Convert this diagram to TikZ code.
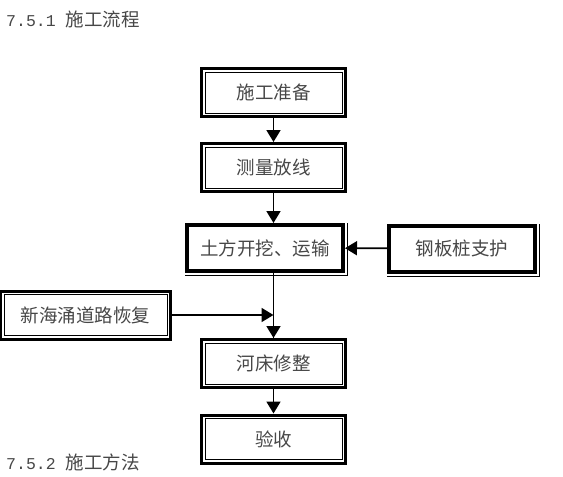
\documentclass[tikz,border=0pt]{standalone}
\usepackage{fontspec}
\usetikzlibrary{arrows.meta}
\newfontfamily\cjk{Noto Sans CJK SC}
\newfontfamily\monodigits{Liberation Mono}
\newcommand{\boxfont}{\cjk\fontsize{18.5}{20}\selectfont}
\newcommand{\headfont}{\fontsize{16.5}{20}\selectfont}
\newcommand{\heavyedge}[1]{%
  \draw[line width=0.9pt] ([yshift=-2.6pt]#1.south west) -| ([xshift=2.6pt]#1.north east);}
\tikzset{
  flowbox/.style={draw,line width=3pt,minimum width=144pt,minimum height=48pt,
    inner sep=0pt,font=\boxfont,text=black!72,
    path picture={\draw[line width=0.8pt]
      ([shift={(3.4pt,-3.4pt)}]path picture bounding box.north west) rectangle
      ([shift={(-3.4pt,3.4pt)}]path picture bounding box.south east);}},
  heavybox/.style={draw,line width=4pt,minimum height=46pt,inner sep=0pt,
    font=\boxfont,text=black!72},
  flowarrow/.style={line width=1.8pt,-{Triangle[width=14pt,length=12pt]}},
  heading/.style={anchor=west,inner sep=0pt,text=black!72},
}
\begin{document}
\begin{tikzpicture}[x=1pt,y=-1pt]
\useasboundingbox (0,0) rectangle (563,477);

%% ---------------- headings ----------------
\node[heading] (h1) at (6,19) {{\headfont\monodigits 7.5.1 }{\boxfont 施工流程}};
\node[heading] (h2) at (6,462) {{\headfont\monodigits 7.5.2 }{\boxfont 施工方法}};

%% ---------------- main column ----------------
\node[flowbox] (prep)  at (273.5,92.5)  {施工准备};
\node[flowbox] (survey) at (273.5,167.5) {测量放线};
\node[heavybox,minimum width=156pt] (dig) at (265,248) {土方开挖、运输};
\node[flowbox] (bed)   at (273.5,363.5) {河床修整};
\node[flowbox] (check) at (273.5,439)   {验收};

%% ---------------- side boxes ----------------
\node[heavybox,minimum width=146pt] (pile) at (462,248.5) {钢板桩支护};
\node[flowbox,minimum width=170pt] (road) at (85.5,315) {新海涌道路恢复};

\heavyedge{dig}
\heavyedge{pile}

%% ---------------- connectors ----------------
\draw[flowarrow] (prep) -- (survey);
\draw[flowarrow] (survey.south) -- (survey.south |- dig.north);
\draw[flowarrow] (pile) -- (dig);
\draw[line width=1.8pt] (bed.north |- dig.south) -- (bed.north);
\draw[flowarrow] (bed.north |- dig.south) -- (bed.north);
\draw[flowarrow] (road) -- (road -| bed.north);
\draw[flowarrow] (bed) -- (check);

\end{tikzpicture}
\end{document}
